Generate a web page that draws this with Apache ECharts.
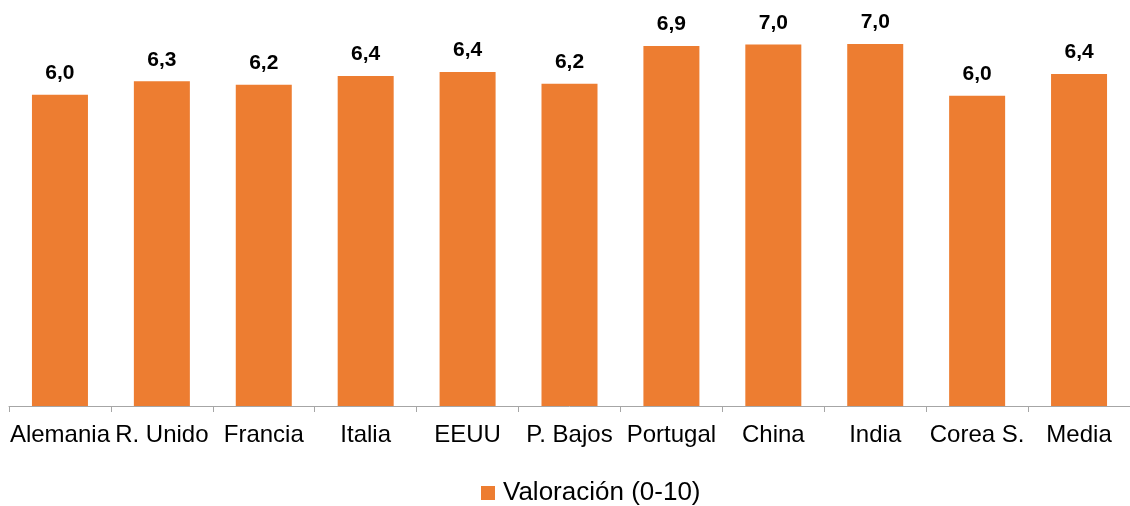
<!DOCTYPE html>
<html>
<head>
<meta charset="utf-8">
<script src="https://cdn.jsdelivr.net/npm/echarts@6/dist/echarts.min.js"></script>
<style>html,body{margin:0;padding:0;background:#fff;}#c{width:1130px;height:506px;}</style>
</head>
<body>
<div id="c"></div>
<script>
const categories = ["Alemania", "R. Unido", "Francia", "Italia", "EEUU", "P. Bajos", "Portugal", "China", "India", "Corea S.", "Media"];
const valores = [6.00, 6.26, 6.19, 6.36, 6.44, 6.21, 6.94, 6.97, 6.98, 5.98, 6.40];
const seriesName = "Valoración (0-10)";

const chart = echarts.init(document.getElementById('c'), null, {renderer: 'canvas'});
chart.setOption({
  animation: false,
  backgroundColor: '#ffffff',
  textStyle: {fontFamily: 'Liberation Sans, Arial, sans-serif'},
  grid: {left: 9, width: 1122, top: 16.9, bottom: 100, containLabel: false},
  xAxis: {
    type: 'category',
    data: categories,
    axisLine: {show: true, lineStyle: {color: '#a6a6a6', width: 1}},
    axisTick: {show: true, length: 6, alignWithLabel: false, lineStyle: {color: '#a6a6a6'}},
    axisLabel: {color: '#000', fontSize: 24, margin: 17, interval: 0, fontFamily: 'Liberation Sans, Arial, sans-serif'}
  },
  yAxis: {
    type: 'value', min: 0, max: 7.5, show: false,
    splitLine: {show: false}
  },
  legend: {
    data: [seriesName],
    top: 480,
    left: 481,
    padding: 0,
    icon: 'rect',
    itemWidth: 14, itemHeight: 14, itemGap: 4,
    textStyle: {color: '#000', fontSize: 26, padding: [0, 0, 0, 3], fontFamily: 'Liberation Sans, Arial, sans-serif'}
  },
  series: [{
    name: seriesName,
    type: 'bar',
    data: valores,
    barWidth: 56,
    itemStyle: {color: '#ED7D31'},
    label: {
      show: true, position: 'top', distance: 11,
      color: '#000', fontWeight: 'bold', fontSize: 21,
      fontFamily: 'Liberation Sans, Arial, sans-serif',
      formatter: p => p.value.toFixed(1).replace('.', ',')
    }
  }]
});
</script>
</body>
</html>
